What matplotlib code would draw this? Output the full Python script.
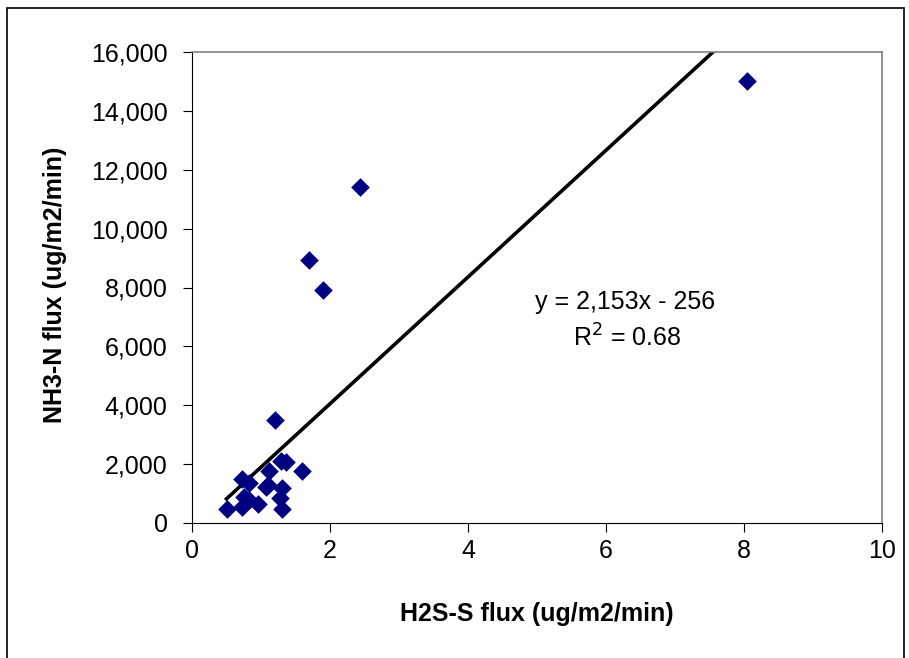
import matplotlib
matplotlib.use("Agg")
import matplotlib.pyplot as plt
import numpy as np
from matplotlib.patches import Rectangle
from matplotlib.ticker import FuncFormatter

plt.rcParams['font.family'] = ['Liberation Sans', 'DejaVu Sans']

h2s = [8.05, 2.43, 1.70, 1.90, 1.21, 1.60, 1.29, 1.36, 1.12, 0.73, 0.83, 1.10, 1.07,
       1.31, 1.28, 0.76, 0.95, 0.50, 0.72, 1.31, 0.82]
nh3 = [15000, 11400, 8950, 7900, 3500, 1780, 2110, 2060, 1780, 1480, 1370, 1290, 1230,
       1180, 860, 890, 630, 490, 530, 480, 780]
slope, intercept = 2153, -256
eq_text = "y = 2,153x - 256"
r2_text = "R$^2$ = 0.68"
xticks = [0, 2, 4, 6, 8, 10]
yticks = list(range(0, 16001, 2000))

FS = 18

fig = plt.figure(figsize=(9.09, 6.58), dpi=100)
fig.patches.append(Rectangle((7/909, -0.1), 897/909, 1.1 - 8/658, transform=fig.transFigure,
                             fill=False, edgecolor='black', linewidth=1.2))
ax = fig.add_axes([192/909, 1-523/658, 690/909, 471/658])

ax.scatter(h2s, nh3, marker='D', s=90, color='#000080', zorder=3, linewidths=0)
xl = np.array([min(h2s), max(h2s)])
ax.plot(xl, slope*xl + intercept, color='black', linewidth=2.6, zorder=2)

ax.set_xlim(0, 10)
ax.set_ylim(0, 16000)
ax.set_xticks(xticks)
ax.set_yticks(yticks)
ax.yaxis.set_major_formatter(FuncFormatter(lambda v, p: f"{int(v):,}"))
ax.tick_params(direction='out', length=6.5, labelsize=FS)
ax.tick_params(axis='y', pad=11)
ax.tick_params(axis='x', pad=5)
for s in ['top', 'right']:
    ax.spines[s].set_color('#808080')
    ax.spines[s].set_linewidth(1.2)
for s in ['left', 'bottom']:
    ax.spines[s].set_color('black')

fig.text(537/909, 1-614/658, "H2S-S flux (ug/m2/min)", fontsize=FS, fontweight='bold',
         ha='center', va='center')
fig.text(55/909, 1-285/658, "NH3-N flux (ug/m2/min)", fontsize=FS, fontweight='bold',
         ha='center', va='center', rotation=90)

ax.text(6.27, 7500, eq_text, fontsize=FS, ha='center', va='center')
ax.text(6.30, 6300, r2_text, fontsize=FS, ha='center', va='center')

fig.savefig("out.png", dpi=100)
